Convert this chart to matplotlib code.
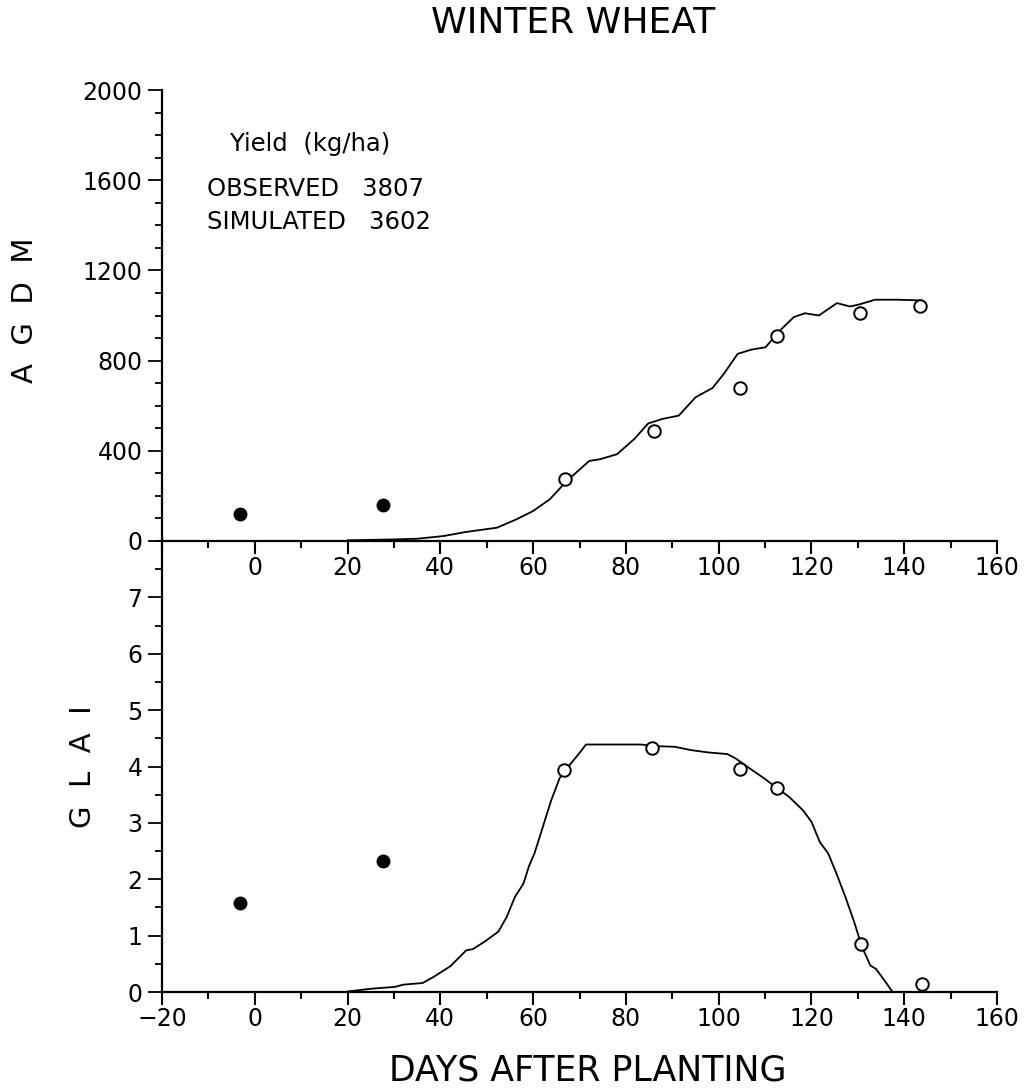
import numpy as np
import matplotlib
matplotlib.use("Agg")
from matplotlib import pyplot as plt
from matplotlib.ticker import MultipleLocator, FixedLocator

# ---- data ----
# AGDM (top panel)
agdm_obs_early_day = [-3.2, 27.7]
agdm_obs_early = [121, 160]
agdm_obs_day = [66.8, 86.1, 104.7, 112.6, 130.4, 143.4]
agdm_obs = [277, 489, 679, 911, 1010, 1044]

agdm_sim_day = [20, 30, 35, 40.7, 45.5, 52.2, 56.4, 60, 63.6, 67.3, 69.7, 72.1,
                74.5, 78.1, 81.8, 84.8, 87.8, 91.4, 95, 98.7, 101.1, 104.1, 107.1,
                110.1, 113.2, 116.2, 118.6, 121.6, 125.5, 128.3, 130.3, 133.7,
                138.5, 143.4]
agdm_sim = [3, 7, 10, 22, 40, 59, 96, 133, 185, 267, 311, 355, 363, 385, 452, 521,
            541, 556, 637, 679, 741, 830, 849, 859, 933, 993, 1010, 1000, 1055,
            1040, 1049, 1070, 1070, 1067]

# GLAI (bottom panel)
glai_obs_early_day = [-3.2, 27.7]
glai_obs_early = [1.58, 2.33]
glai_obs_day = [66.6, 85.6, 104.6, 112.5, 130.6, 143.9]
glai_obs = [3.93, 4.32, 3.95, 3.61, 0.85, 0.15]

glai_sim_day = [20.1, 25.3, 30.2, 32, 36.2, 38.6, 42.2, 45.6, 47, 49.5, 52.5, 54.3,
                56.1, 57.9, 59.1, 60.3, 62.1, 63.9, 65.7, 67.5, 69.9, 71.4, 77.2,
                83.2, 86.9, 90.5, 94.1, 97.7, 101.9, 103.7, 106.8, 109.8, 112.2,
                115.2, 118.2, 120, 121.8, 123.6, 125.4, 127.3, 129.1, 130.9, 132.7,
                133.9, 135.7, 137.5]
glai_sim = [0.01, 0.06, 0.09, 0.13, 0.16, 0.27, 0.46, 0.74, 0.76, 0.89, 1.07, 1.33,
            1.69, 1.92, 2.23, 2.46, 2.93, 3.40, 3.79, 3.99, 4.23, 4.39, 4.39, 4.39,
            4.36, 4.35, 4.29, 4.25, 4.22, 4.14, 3.96, 3.79, 3.64, 3.46, 3.22, 3.02,
            2.66, 2.46, 2.10, 1.69, 1.27, 0.80, 0.47, 0.41, 0.21, 0.0]

x_ticks_top = [0, 20, 40, 60, 80, 100, 120, 140, 160]
x_ticks_bot = [-20, 0, 20, 40, 60, 80, 100, 120, 140, 160]

narrow = ['Liberation Sans Narrow', 'DejaVu Sans']
plt.rcParams['font.family'] = ['DejaVu Sans']

fig = plt.figure(figsize=(10.30, 10.91), dpi=100)
L, W = 162 / 1030, 835 / 1030
H = 451 / 1091
ax2 = fig.add_axes([L, 1 - 992 / 1091, W, H])
ax1 = fig.add_axes([L, 1 - 541 / 1091, W, H])
ax1.patch.set_visible(False)
ax2.patch.set_visible(False)
ax1.set_zorder(3)


def style(ax):
    for s in ['top', 'right']:
        ax.spines[s].set_visible(False)
    for s in ['left', 'bottom']:
        ax.spines[s].set_linewidth(1.6)
    ax.set_xlim(-20, 160)
    ax.xaxis.set_minor_locator(MultipleLocator(10))
    ax.tick_params(axis='x', which='major', direction='out', length=9, width=1.5,
                   pad=2, labelsize=17)
    ax.tick_params(axis='x', which='minor', direction='out', length=5, width=1.5)
    ax.tick_params(axis='y', which='major', direction='out', length=10, width=1.3,
                   pad=4, labelsize=17)
    ax.tick_params(axis='y', which='minor', direction='out', length=5, width=1.3)


# top panel
style(ax1)
ax1.plot(agdm_sim_day, agdm_sim, color='black', lw=1.3)
ax1.plot(agdm_obs_day, agdm_obs, 'o', mfc='white', mec='black', ms=9, mew=1.4)
ax1.plot(agdm_obs_early_day, agdm_obs_early, 'o', color='black', ms=9)
ax1.set_ylim(0, 2000)
ax1.yaxis.set_major_locator(MultipleLocator(400))
ax1.yaxis.set_minor_locator(MultipleLocator(100))
ax1.xaxis.set_major_locator(FixedLocator(x_ticks_top))
ax1.set_xticklabels([str(t) for t in x_ticks_top])

ax1.text(0.082, 0.88, 'Yield  (kg/ha)', transform=ax1.transAxes, fontsize=17.5,
         ha='left', va='center')
ax1.text(0.054, 0.78, 'OBSERVED   3807', transform=ax1.transAxes, fontsize=17.5,
         ha='left', va='center')
ax1.text(0.054, 0.707, 'SIMULATED   3602', transform=ax1.transAxes, fontsize=17.5,
         ha='left', va='center')

# bottom panel
style(ax2)
ax2.plot(glai_sim_day, glai_sim, color='black', lw=1.3)
ax2.plot(glai_obs_day, glai_obs, 'o', mfc='white', mec='black', ms=9, mew=1.4)
ax2.plot(glai_obs_early_day, glai_obs_early, 'o', color='black', ms=9)
ax2.set_ylim(0, 8)
ax2.yaxis.set_major_locator(FixedLocator([0, 1, 2, 3, 4, 5, 6, 7]))
ax2.yaxis.set_minor_locator(MultipleLocator(0.5))
ax2.xaxis.set_major_locator(FixedLocator(x_ticks_bot))
ax2.set_xticklabels([str(t).replace('-', '\u2212') for t in x_ticks_bot])

fig.text(0.556, 0.979, 'WINTER WHEAT', ha='center', va='center', fontsize=26,
         family=narrow)
fig.text(0.571, 0.019, 'DAYS AFTER PLANTING', ha='center', va='center',
         fontsize=25, family=narrow)
fig.text(0.024, 1 - 310 / 1091, 'A  G  D  M', rotation=90, ha='center',
         va='center', fontsize=21)
fig.text(0.081, 1 - 767 / 1091, 'G  L  A  I', rotation=90, ha='center',
         va='center', fontsize=21)

fig.savefig('out.png', dpi=100)
